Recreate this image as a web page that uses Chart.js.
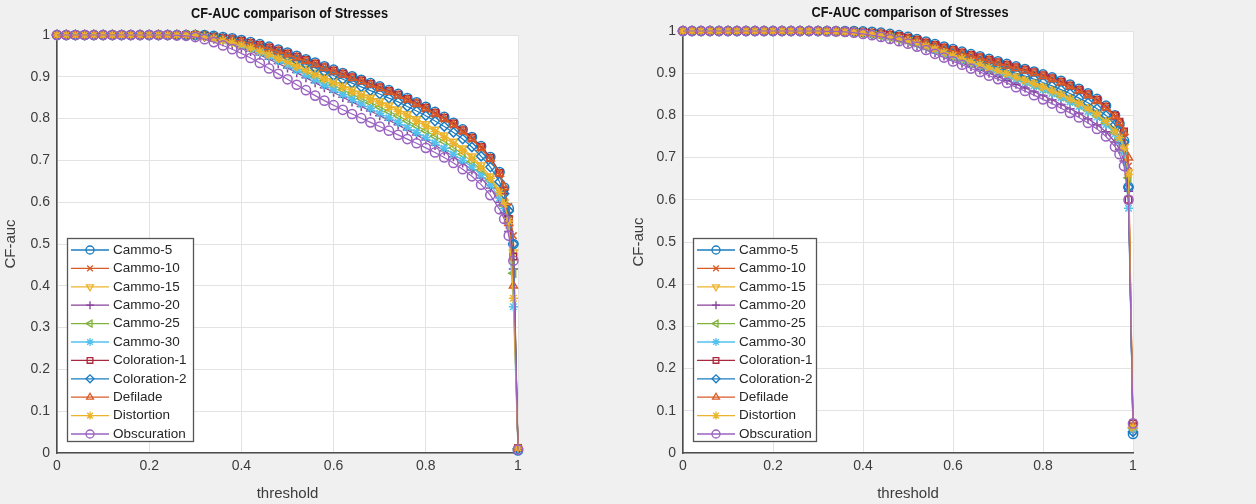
<!DOCTYPE html>
<html>
<head>
<meta charset="utf-8">
<script src="https://cdn.jsdelivr.net/npm/chart.js@4.4.0/dist/chart.umd.min.js"></script>
<style>
  html, body { margin: 0; padding: 0; background: #f0f0f0; }
  #wrap { display: flex; width: 1256px; height: 504px; }
  .cell { position: relative; width: 628px; height: 504px; }
</style>
</head>
<body>
<div id="wrap">
  <div class="cell"><canvas id="left"></canvas></div>
  <div class="cell"><canvas id="right"></canvas></div>
</div>
<script>
// threshold grid (denser near 1 where the curves fall off)
const thresholds = [0, 0.02, 0.04, 0.06, 0.08, 0.1, 0.12, 0.14, 0.16, 0.18, 0.2, 0.22, 0.24, 0.26, 0.28,
  0.3, 0.32, 0.34, 0.36, 0.38, 0.4, 0.42, 0.44, 0.46, 0.48, 0.5, 0.52, 0.54, 0.56, 0.58,
  0.6, 0.62, 0.64, 0.66, 0.68, 0.7, 0.72, 0.74, 0.76, 0.78, 0.8, 0.82, 0.84, 0.86, 0.88,
  0.9, 0.92, 0.94, 0.96, 0.97, 0.98, 0.99, 1];

const seriesNames = ["Cammo-5", "Cammo-10", "Cammo-15", "Cammo-20", "Cammo-25", "Cammo-30",
  "Coloration-1", "Coloration-2", "Defilade", "Distortion", "Obscuration"];

const xTicks = [0, 0.2, 0.4, 0.6, 0.8, 1];
const yTicks = [0, 0.1, 0.2, 0.3, 0.4, 0.5, 0.6, 0.7, 0.8, 0.9, 1];

// left panel
const leftCammo5 = [1, 1, 1, 1, 1, 1, 1, 1, 1, 1, 1, 1, 1, 1, 1,
  1, 1, .998, .995, .992, .988, .983, .978, .972, .965, .958, .950, .942, .934, .925,
  .917, .909, .901, .893, .885, .877, .868, .859, .849, .839, .828, .816, .804, .790, .774,
  .756, .734, .708, .672, .635, .585, .500, .006];
const leftCammo10 = [1, 1, 1, 1, 1, 1, 1, 1, 1, 1, 1, 1, 1, 1, 1,
  .999, .995, .992, .989, .986, .982, .977, .972, .966, .959, .952, .944, .936, .928, .919,
  .911, .903, .895, .887, .879, .871, .862, .853, .843, .833, .822, .810, .798, .784, .768,
  .750, .728, .702, .666, .632, .590, .520, .010];
const leftCammo15 = [1, 1, 1, 1, 1, 1, 1, 1, 1, 1, 1, 1, 1, 1, 1,
  1, .998, .995, .991, .986, .980, .973, .966, .958, .949, .940, .930, .920, .910, .900,
  .890, .880, .870, .860, .851, .842, .832, .822, .811, .799, .787, .774, .760, .745, .729,
  .710, .688, .662, .628, .600, .560, .480, .010];
const leftCammo20 = [1, 1, 1, 1, 1, 1, 1, 1, 1, 1, 1, 1, 1, 1, .999,
  .998, .995, .990, .984, .977, .969, .961, .952, .942, .932, .921, .910, .898, .886, .874,
  .863, .851, .840, .829, .818, .807, .796, .785, .773, .761, .749, .736, .723, .709, .694,
  .677, .658, .634, .600, .575, .530, .440, .010];
const leftCammo25 = [1, 1, 1, 1, 1, 1, 1, 1, 1, 1, 1, 1, 1, 1, 1,
  1, .998, .994, .990, .984, .978, .970, .962, .953, .944, .934, .923, .912, .901, .890,
  .880, .869, .858, .848, .838, .828, .817, .807, .795, .783, .771, .758, .745, .730, .715,
  .697, .677, .652, .619, .592, .552, .430, .010];
const leftCammo30 = [1, 1, 1, 1, 1, 1, 1, 1, 1, 1, 1, 1, 1, 1, 1,
  .999, .997, .993, .988, .982, .975, .967, .958, .948, .938, .927, .916, .904, .892, .880,
  .869, .857, .846, .835, .824, .813, .802, .791, .779, .767, .755, .742, .729, .715, .700,
  .684, .665, .642, .610, .585, .545, .350, .008];
const leftColoration1 = [1, 1, 1, 1, 1, 1, 1, 1, 1, 1, 1, 1, 1, 1, 1,
  1, .998, .996, .993, .990, .986, .981, .976, .970, .963, .956, .948, .940, .932, .923,
  .915, .907, .899, .891, .883, .875, .866, .857, .847, .837, .826, .814, .802, .788, .772,
  .754, .732, .706, .670, .628, .560, .470, .012];
const leftColoration2 = [1, 1, 1, 1, 1, 1, 1, 1, 1, 1, 1, 1, 1, 1, 1,
  1, .998, .996, .992, .988, .983, .977, .971, .964, .956, .948, .939, .930, .921, .912,
  .903, .894, .885, .876, .867, .859, .849, .840, .829, .818, .807, .794, .781, .767, .751,
  .732, .710, .684, .649, .620, .579, .500, .010];
const leftDefilade = [1, 1, 1, 1, 1, 1, 1, 1, 1, 1, 1, 1, 1, 1, 1,
  1, .996, .994, .991, .988, .984, .979, .974, .968, .961, .954, .946, .938, .930, .921,
  .913, .905, .897, .889, .881, .873, .864, .855, .845, .835, .824, .812, .800, .786, .770,
  .752, .730, .704, .668, .636, .550, .400, .012];
const leftDistortion = [1, 1, 1, 1, 1, 1, 1, 1, 1, 1, 1, 1, 1, 1, 1,
  1, .996, .991, .987, .982, .976, .969, .961, .953, .944, .935, .925, .915, .905, .895,
  .885, .875, .865, .855, .846, .837, .827, .817, .806, .794, .782, .769, .755, .740, .724,
  .705, .683, .657, .623, .595, .555, .370, .012];
const leftObscuration = [1, 1, 1, 1, 1, 1, 1, 1, 1, 1, 1, 1, 1, .999, .998,
  .995, .990, .983, .975, .966, .956, .945, .933, .920, .907, .894, .881, .868, .855, .843,
  .832, .821, .811, .801, .791, .781, .771, .761, .751, .741, .730, .719, .707, .694, .679,
  .662, .642, .617, .583, .560, .520, .460, .008];

// right panel
const rightCammo5 = [1, 1, 1, 1, 1, 1, 1, 1, 1, 1, 1, 1, 1, 1, 1,
  1, 1, 1, 1, 1, .999, .998, .996, .993, .990, .986, .981, .975, .969, .963,
  .957, .951, .945, .940, .934, .928, .922, .916, .910, .904, .897, .890, .882, .873, .863,
  .852, .839, .823, .800, .780, .740, .630, .045];
const rightCammo10 = [1, 1, 1, 1, 1, 1, 1, 1, 1, 1, 1, 1, 1, 1, 1,
  1, 1, .999, .999, .998, .997, .996, .994, .990, .987, .983, .978, .972, .966, .960,
  .954, .948, .941, .936, .930, .924, .918, .912, .905, .899, .892, .885, .877, .868, .858,
  .847, .834, .817, .796, .781, .758, .680, .060];
const rightCammo15 = [1, 1, 1, 1, 1, 1, 1, 1, 1, 1, 1, 1, 1, 1, 1,
  1, 1, .999, .999, .997, .995, .993, .990, .987, .983, .978, .972, .965, .958, .950,
  .943, .936, .929, .922, .915, .908, .901, .893, .886, .878, .869, .861, .852, .842, .831,
  .819, .806, .789, .767, .750, .725, .665, .065];
const rightCammo20 = [1, 1, 1, 1, 1, 1, 1, 1, 1, 1, 1, 1, 1, 1, 1,
  1, .999, .999, .998, .996, .994, .991, .987, .982, .978, .972, .965, .958, .949, .941,
  .932, .924, .916, .908, .900, .892, .883, .874, .865, .856, .847, .837, .826, .816, .805,
  .792, .778, .761, .737, .720, .692, .620, .050];
const rightCammo25 = [1, 1, 1, 1, 1, 1, 1, 1, 1, 1, 1, 1, 1, 1, 1,
  1, .999, .999, .998, .997, .995, .993, .990, .986, .981, .976, .970, .963, .956, .948,
  .940, .933, .925, .919, .911, .904, .896, .888, .881, .872, .864, .855, .845, .835, .825,
  .813, .799, .782, .759, .743, .717, .652, .060];
const rightCammo30 = [1, 1, 1, 1, 1, 1, 1, 1, 1, 1, 1, 1, 1, 1, 1,
  1, .999, .999, .998, .997, .995, .992, .989, .985, .981, .976, .969, .962, .954, .947,
  .939, .932, .924, .917, .909, .902, .894, .886, .878, .870, .861, .852, .842, .832, .821,
  .809, .796, .778, .756, .739, .713, .580, .055];
const rightColoration1 = [1, 1, 1, 1, 1, 1, 1, 1, 1, 1, 1, 1, 1, 1, 1,
  1, 1, .999, .999, .998, .997, .996, .994, .991, .988, .984, .979, .973, .967, .961,
  .955, .949, .943, .938, .932, .926, .920, .914, .908, .902, .895, .888, .880, .871, .861,
  .850, .837, .821, .800, .785, .762, .600, .070];
const rightColoration2 = [1, 1, 1, 1, 1, 1, 1, 1, 1, 1, 1, 1, 1, 1, 1,
  1, 1, .999, .999, .997, .996, .994, .992, .988, .984, .980, .974, .968, .961, .954,
  .947, .940, .933, .928, .921, .914, .907, .900, .893, .886, .878, .870, .861, .852, .841,
  .830, .816, .800, .778, .762, .737, .630, .050];
const rightDefilade = [1, 1, 1, 1, 1, 1, 1, 1, 1, 1, 1, 1, 1, 1, 1,
  1, 1, .999, .998, .997, .996, .995, .993, .990, .986, .982, .977, .971, .965, .959,
  .953, .947, .941, .936, .930, .924, .918, .912, .906, .900, .893, .886, .878, .869, .859,
  .848, .835, .819, .798, .783, .760, .700, .065];
const rightDistortion = [1, 1, 1, 1, 1, 1, 1, 1, 1, 1, 1, 1, 1, 1, 1,
  1, .999, .999, .998, .997, .995, .993, .990, .986, .982, .977, .971, .964, .957, .949,
  .942, .935, .927, .921, .913, .906, .899, .891, .883, .875, .867, .858, .849, .839, .828,
  .816, .803, .786, .763, .747, .721, .660, .060];
const rightObscuration = [1, 1, 1, 1, 1, 1, 1, 1, 1, 1, 1, 1, 1, 1, 1,
  1, .999, .999, .998, .996, .993, .990, .986, .981, .976, .970, .963, .955, .946, .937,
  .928, .920, .911, .903, .894, .886, .877, .867, .858, .848, .838, .828, .817, .806, .795,
  .782, .768, .750, .726, .708, .680, .600, .070];

// MATLAB default colour order and marker per series
const seriesColors = ["#1a7cc2", "#d95c28", "#ecb42c", "#86409a", "#7fb23c", "#55c2ee",
  "#a8283c", "#1a7cc2", "#d95c28", "#ecb42c", "#9a62c0"];
const seriesMarkers = ["circle", "crossRot", "triangle", "cross", "triangle", "star",
  "rect", "rectRot", "triangle", "star", "circle"];
const markerTurns = [0, 0, 180, 0, 270, 0, 0, 0, 0, 0, 0];

const FONT = "'Liberation Sans', Arial, sans-serif";

const plotBackground = {
  id: "plotBackground",
  beforeDraw(chart) {
    const { ctx, chartArea: a } = chart;
    ctx.save();
    ctx.fillStyle = "#ffffff";
    ctx.fillRect(a.left, a.top, a.right - a.left, a.bottom - a.top);
    ctx.restore();
  }
};

const plotTitle = {
  id: "plotTitle",
  afterDraw(chart, args, opts) {
    const { ctx, chartArea: a } = chart;
    ctx.save();
    ctx.translate((a.left + a.right) / 2 + 2, opts.y);
    ctx.scale(0.88, 1);
    ctx.font = "bold 14.5px " + FONT;
    ctx.fillStyle = "#111";
    ctx.textAlign = "center";
    ctx.textBaseline = "middle";
    ctx.fillText(opts.text, 0, 0);
    ctx.restore();
  }
};

// MATLAB style legend box in the lower left corner of the axes
const boxLegend = {
  id: "boxLegend",
  afterDatasetsDraw(chart, args, opts) {
    const { ctx, chartArea: a } = chart;
    const rowH = 18.4, w = opts.width, h = 203;
    const x0 = a.left + 10, y0 = a.bottom - 12 - h;
    ctx.save();
    ctx.fillStyle = "#ffffff";
    ctx.fillRect(x0, y0, w, h);
    ctx.strokeStyle = "#555555";
    ctx.lineWidth = 1.3;
    ctx.strokeRect(x0 + 0.5, y0 + 0.5, w, h);
    chart.data.datasets.forEach((ds, i) => {
      const y = y0 + 12 + i * rowH;
      ctx.strokeStyle = ds.borderColor;
      ctx.lineWidth = 1.3;
      ctx.beginPath();
      ctx.moveTo(x0 + 4, y);
      ctx.lineTo(x0 + 42, y);
      ctx.stroke();
      ctx.fillStyle = "rgba(0,0,0,0)";
      Chart.helpers.drawPoint(ctx, {
        pointStyle: ds.pointStyle, rotation: ds.pointRotation, radius: 4, borderWidth: 1.3
      }, x0 + 23, y);
      ctx.fillStyle = "#262626";
      ctx.font = "13.5px " + FONT;
      ctx.textAlign = "left";
      ctx.textBaseline = "middle";
      ctx.fillText(ds.label, x0 + 46, y);
    });
    ctx.restore();
  }
};

const fmt = v => String(Number(v.toFixed(1)));

function makeChart(id, seriesValues, frame) {
  const datasets = seriesValues.map((vals, i) => ({
    label: seriesNames[i],
    data: thresholds.map((t, k) => ({ x: t, y: vals[k] })),
    borderColor: seriesColors[i],
    borderWidth: 1.2,
    pointStyle: seriesMarkers[i],
    pointRotation: markerTurns[i],
    pointRadius: 4.6,
    pointBorderWidth: 1.5,
    pointBorderColor: seriesColors[i],
    pointBackgroundColor: "rgba(0,0,0,0)",
    tension: 0,
    clip: false,
    order: seriesNames.length - i
  }));

  return new Chart(document.getElementById(id), {
    type: "line",
    data: { datasets: datasets },
    plugins: [plotBackground, plotTitle, boxLegend],
    options: {
      responsive: true,
      maintainAspectRatio: false,
      animation: false,
      layout: { padding: { left: 0, right: frame.padRight, top: frame.padTop, bottom: 0 } },
      plugins: {
        legend: { display: false },
        tooltip: { enabled: false },
        plotTitle: { text: "CF-AUC comparison of Stresses", y: frame.titleY },
        boxLegend: { width: frame.legendWidth }
      },
      scales: {
        x: {
          type: "linear", min: 0, max: 1,
          afterBuildTicks: s => { s.ticks = xTicks.map(v => ({ value: v })); },
          ticks: { padding: 5, color: "#3c3c3c", font: { size: 14, family: FONT }, callback: fmt, maxRotation: 0 },
          grid: { color: "#e3e3e3", drawTicks: false },
          border: { color: "#4d4d4d", width: 1.6 },
          title: { display: true, text: "threshold", color: "#3c3c3c", font: { size: 15, family: FONT }, padding: { top: 0, bottom: 1 } },
          afterFit: s => { s.height = 51; }
        },
        y: {
          type: "linear", min: 0, max: 1,
          afterBuildTicks: s => { s.ticks = yTicks.map(v => ({ value: v })); },
          ticks: { padding: 7, color: "#3c3c3c", font: { size: 14, family: FONT }, callback: fmt },
          grid: { color: "#e3e3e3", drawTicks: false },
          border: { color: "#4d4d4d", width: 1.6 },
          title: { display: true, text: "CF-auc", color: "#3c3c3c", font: { size: 15, family: FONT }, padding: { top: 2, bottom: 0 } },
          afterFit: s => { s.width = frame.axisWidth; }
        }
      }
    }
  });
}

makeChart("left", [leftCammo5, leftCammo10, leftCammo15, leftCammo20, leftCammo25, leftCammo30,
  leftColoration1, leftColoration2, leftDefilade, leftDistortion, leftObscuration],
  { axisWidth: 57, padRight: 110, padTop: 35, titleY: 14, legendWidth: 126 });

makeChart("right", [rightCammo5, rightCammo10, rightCammo15, rightCammo20, rightCammo25, rightCammo30,
  rightColoration1, rightColoration2, rightDefilade, rightDistortion, rightObscuration],
  { axisWidth: 55, padRight: 123, padTop: 31, titleY: 13, legendWidth: 123 });
</script>
</body>
</html>
